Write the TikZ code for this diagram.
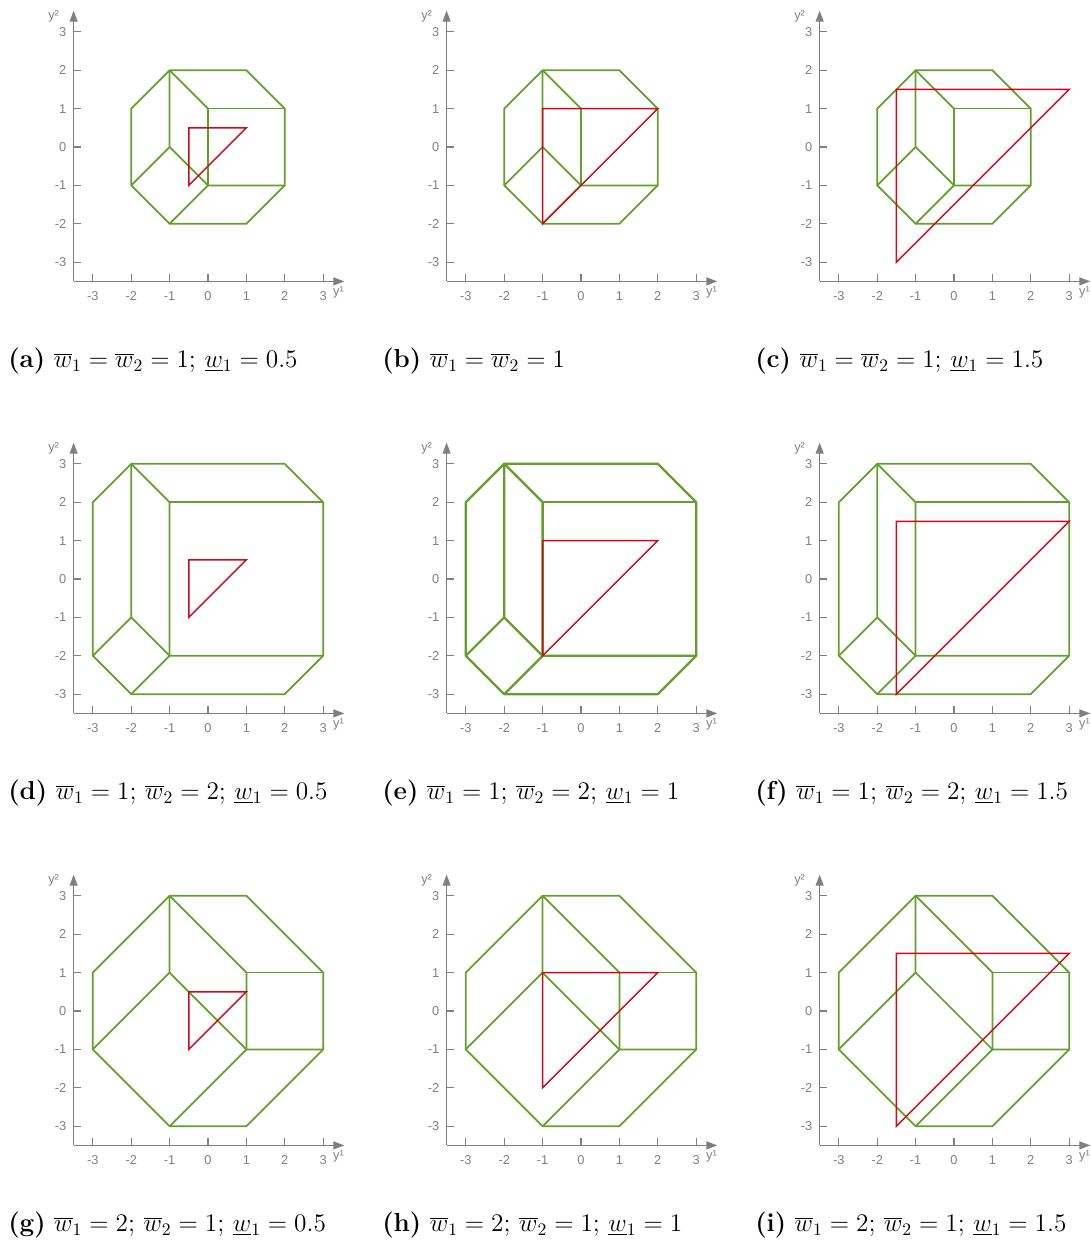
\documentclass[tikz,border=0pt]{standalone}
\usepackage{fontspec}
\newfontfamily\axfont{Liberation Sans}
\usetikzlibrary{arrows.meta}
\definecolor{axgray}{RGB}{128,128,128}
\definecolor{lgreen}{RGB}{98,160,44}
\definecolor{lred}{RGB}{205,10,25}
\tikzset{
 axisline/.style={draw=axgray, line width=0.8pt, -{Triangle[length=2.2mm,width=1.6mm]}},
 tickline/.style={draw=axgray, line width=0.6pt},
 ticklab/.style={font=\axfont\fontsize{7.3}{8}\selectfont, text=axgray, inner sep=0pt},
 greenline/.style={draw=lgreen, line width=1pt, line join=round},
 redline/.style={draw=lred, line width=0.8pt},
 captext/.style={anchor=west, inner sep=0pt, font=\fontsize{14.8}{17}\selectfont},
 panel/.style={x=0.768cm, y=0.768cm},
}
\newcommand\drawaxes{%
 \draw[axisline] (-3.5,-3.5) -- (3.55,-3.5);
 \draw[axisline] (-3.5,-3.5) -- (-3.5,3.55);
 \foreach \t in {-3,...,3}{
   \draw[tickline] (\t,-3.5) -- (\t,-3.3);
   \draw[tickline] (-3.5,\t) -- (-3.3,\t);
   \node[ticklab] at (\t,-3.87) {\t};
   \node[ticklab, anchor=east] at (-3.68,\t) {\t};
 }
 \node[ticklab] at (3.4,-3.79) {y¹};
 \node[ticklab] at (-4.02,3.41) {y²};
}
\newcommand\cubeA{%
 \draw[greenline] (-1,2)--(1,2)--(2,1)--(2,-1)--(1,-2)--(-1,-2)--(-2,-1)--(-2,1)--cycle;
 \draw[greenline] (-1,2)--(-1,0)--(-2,-1);
 \draw[greenline] (-1,0)--(0,-1)--(-1,-2);
 \draw[greenline] (-1,2)--(0,1)--(0,-1)--(2,-1);
 \draw[greenline] (0,1)--(2,1);
}
\newcommand\cubeD{%
 \draw[greenline] (-2,3)--(2,3)--(3,2)--(3,-2)--(2,-3)--(-2,-3)--(-3,-2)--(-3,2)--cycle;
 \draw[greenline] (-2,3)--(-2,-1)--(-3,-2);
 \draw[greenline] (-2,-1)--(-1,-2)--(-2,-3);
 \draw[greenline] (-2,3)--(-1,2)--(-1,-2)--(3,-2);
 \draw[greenline] (-1,2)--(3,2);
}
\newcommand\cubeG{%
 \draw[greenline] (-1,3)--(1,3)--(3,1)--(3,-1)--(1,-3)--(-1,-3)--(-3,-1)--(-3,1)--cycle;
 \draw[greenline] (-1,3)--(-1,1)--(-3,-1);
 \draw[greenline] (-1,1)--(1,-1)--(-1,-3);
 \draw[greenline] (-1,3)--(1,1)--(1,-1)--(3,-1);
 \draw[greenline] (1,1)--(3,1);
}
\newcommand\redtri[1]{%
 \draw[redline] (-#1,#1)--({2*#1},#1)--(-#1,{-2*#1})--cycle;
}
\begin{document}
\begin{tikzpicture}[x=0.02cm, y=-0.02cm]
\useasboundingbox (0,0) rectangle (1091,1242);
% row 1
\begin{scope}[shift={(208,147)}, panel]
 \drawaxes \cubeA \redtri{0.5}
\end{scope}
\begin{scope}[shift={(581,147)}, panel]
 \drawaxes \cubeA \redtri{1}
\end{scope}
\begin{scope}[shift={(954,147)}, panel]
 \drawaxes \cubeA \redtri{1.5}
\end{scope}
% row 2
\begin{scope}[shift={(208,579)}, panel]
 \drawaxes \cubeD \redtri{0.5}
\end{scope}
\begin{scope}[shift={(581,579)}, panel, greenline/.append style={line width=1.3pt}]
 \drawaxes \cubeD \redtri{1}
\end{scope}
\begin{scope}[shift={(954,579)}, panel]
 \drawaxes \cubeD \redtri{1.5}
\end{scope}
% row 3
\begin{scope}[shift={(208,1011)}, panel]
 \drawaxes \cubeG \redtri{0.5}
\end{scope}
\begin{scope}[shift={(581,1011)}, panel]
 \drawaxes \cubeG \redtri{1}
\end{scope}
\begin{scope}[shift={(954,1011)}, panel]
 \drawaxes \cubeG \redtri{1.5}
\end{scope}
% captions
\node[captext] (ca) at (8,361) {\textbf{(a)} $\overline{w}_1=\overline{w}_2=1$; $\underline{w}_1=0.5$};
\node[captext] (cb) at (382,361) {\textbf{(b)} $\overline{w}_1=\overline{w}_2=1$};
\node[captext] (cc) at (755,361) {\textbf{(c)} $\overline{w}_1=\overline{w}_2=1$; $\underline{w}_1=1.5$};
\node[captext] (cd) at (8,793) {\textbf{(d)} $\overline{w}_1=1$; $\overline{w}_2=2$; $\underline{w}_1=0.5$};
\node[captext] (ce) at (382,793) {\textbf{(e)} $\overline{w}_1=1$; $\overline{w}_2=2$; $\underline{w}_1=1$};
\node[captext] (cf) at (755,793) {\textbf{(f)} $\overline{w}_1=1$; $\overline{w}_2=2$; $\underline{w}_1=1.5$};
\node[captext] (cg) at (8,1225) {\textbf{(g)} $\overline{w}_1=2$; $\overline{w}_2=1$; $\underline{w}_1=0.5$};
\node[captext] (ch) at (382,1225) {\textbf{(h)} $\overline{w}_1=2$; $\overline{w}_2=1$; $\underline{w}_1=1$};
\node[captext] (ci) at (755,1225) {\textbf{(i)} $\overline{w}_1=2$; $\overline{w}_2=1$; $\underline{w}_1=1.5$};
\end{tikzpicture}
\end{document}
